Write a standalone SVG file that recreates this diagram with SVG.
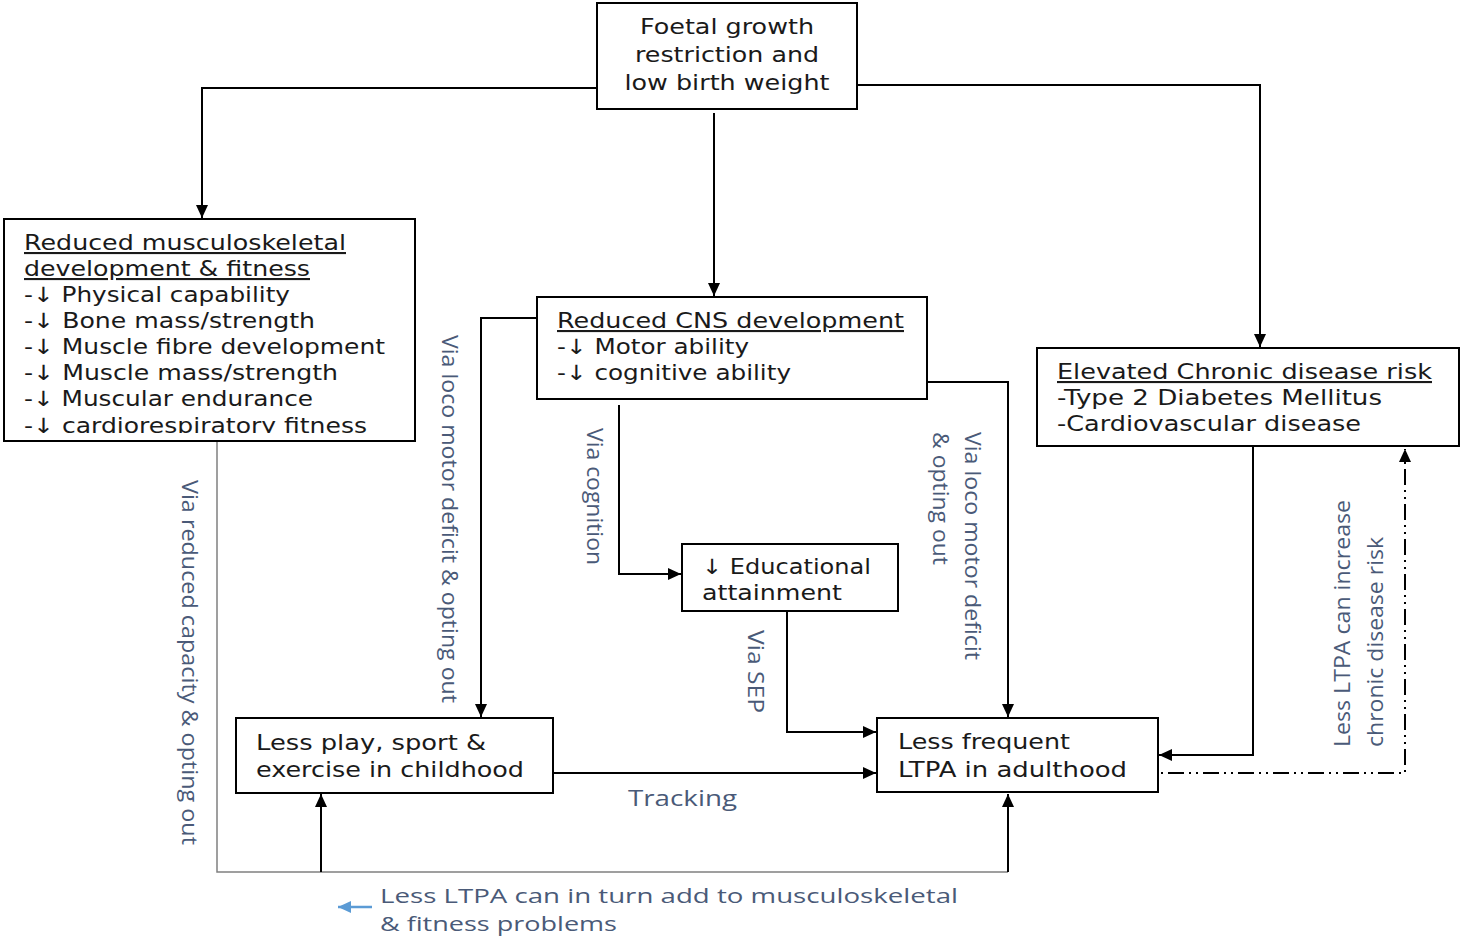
<svg xmlns="http://www.w3.org/2000/svg" width="1460" height="936" viewBox="0 0 1460 936">
<style>
.box{fill:#fff;stroke:#000;stroke-width:2}
.t{font-family:"DejaVu Sans",Verdana,sans-serif;font-size:21px;fill:#1a1a1a}
.tt{font-family:"DejaVu Sans",Verdana,sans-serif;font-size:22px;fill:#1a1a1a}
.u{text-decoration:underline}
.lab{font-family:"Open Sans","Noto Sans",sans-serif;font-size:22px;fill:#4a5a78}
.lab2{font-family:"Open Sans","Noto Sans",sans-serif;font-size:20px;fill:#4a5a78}
.c{fill:none;stroke:#000;stroke-width:2}
.g{fill:none;stroke:#808080;stroke-width:1.5}
</style>
<defs>
<marker id="ah" markerUnits="userSpaceOnUse" markerWidth="14" markerHeight="12" refX="13" refY="6" orient="auto">
<path d="M0,0 L13,6 L0,12 z" fill="#000"/>
</marker>
<marker id="ahb" markerUnits="userSpaceOnUse" markerWidth="14" markerHeight="12" refX="13" refY="6" orient="auto">
<path d="M0,0 L13,6 L0,12 z" fill="#5b9bd5"/>
</marker>
<clipPath id="clipL"><rect x="0" y="219" width="420" height="214"/></clipPath>
</defs>

<g id="connectors">
<path class="c" d="M597,88 H202 V218" marker-end="url(#ah)"/>
<path class="c" d="M857,85 H1260 V347" marker-end="url(#ah)"/>
<path class="c" d="M714,113 V296" marker-end="url(#ah)"/>
<path class="c" d="M537,318 H481 V717" marker-end="url(#ah)"/>
<path class="c" d="M927,382 H1008 V717" marker-end="url(#ah)"/>
<path class="c" d="M619,405 V574 H681" marker-end="url(#ah)"/>
<path class="c" d="M787,611 V732 H876" marker-end="url(#ah)"/>
<path class="c" d="M553,773 H876" marker-end="url(#ah)"/>
<path class="c" d="M1253,446 V755 H1159" marker-end="url(#ah)"/>
<path class="g" d="M217,442 V872 H1008"/>
<path class="c" d="M321,872 V794" marker-end="url(#ah)"/>
<path class="c" d="M1008,872 V794" marker-end="url(#ah)"/>
<path class="c" d="M1133,773 H1405 V449" stroke-dasharray="16 5 2 5 2 5" marker-end="url(#ah)"/>
<path d="M372,907 H338" fill="none" stroke="#5b9bd5" stroke-width="2.5" marker-end="url(#ahb)"/>
</g>

<g id="node-foetal">
<rect class="box" x="597" y="3" width="260" height="106"/>
<text class="tt" x="727" y="34" text-anchor="middle" textLength="174" lengthAdjust="spacingAndGlyphs">Foetal growth</text>
<text class="tt" x="727" y="62" text-anchor="middle" textLength="184" lengthAdjust="spacingAndGlyphs">restriction and</text>
<text class="tt" x="727" y="90" text-anchor="middle" textLength="205" lengthAdjust="spacingAndGlyphs">low birth weight</text>
</g>

<g id="node-musculoskeletal">
<rect class="box" x="4" y="219" width="411" height="222"/>
<g clip-path="url(#clipL)">
<text class="t u" x="24" y="250" textLength="322" lengthAdjust="spacingAndGlyphs">Reduced musculoskeletal</text>
<text class="t u" x="24" y="276" textLength="286" lengthAdjust="spacingAndGlyphs">development &amp; fitness</text>
<text class="t" x="24" y="302" textLength="266" lengthAdjust="spacingAndGlyphs">-↓ Physical capability</text>
<text class="t" x="24" y="328" textLength="291" lengthAdjust="spacingAndGlyphs">-↓ Bone mass/strength</text>
<text class="t" x="24" y="354" textLength="361" lengthAdjust="spacingAndGlyphs">-↓ Muscle fibre development</text>
<text class="t" x="24" y="380" textLength="314" lengthAdjust="spacingAndGlyphs">-↓ Muscle mass/strength</text>
<text class="t" x="24" y="406" textLength="289" lengthAdjust="spacingAndGlyphs">-↓ Muscular endurance</text>
<text class="t" x="24" y="433" textLength="343" lengthAdjust="spacingAndGlyphs">-↓ cardiorespiratory fitness</text>
</g>
</g>

<g id="node-cns">
<rect class="box" x="537" y="297" width="390" height="102"/>
<text class="t u" x="557" y="328" textLength="347" lengthAdjust="spacingAndGlyphs">Reduced CNS development</text>
<text class="t" x="557" y="354" textLength="192" lengthAdjust="spacingAndGlyphs">-↓ Motor ability</text>
<text class="t" x="557" y="380" textLength="234" lengthAdjust="spacingAndGlyphs">-↓ cognitive ability</text>
</g>

<g id="node-chronic">
<rect class="box" x="1037" y="348" width="422" height="98"/>
<text class="t u" x="1057" y="379" textLength="375" lengthAdjust="spacingAndGlyphs">Elevated Chronic disease risk</text>
<text class="t" x="1057" y="405" textLength="325" lengthAdjust="spacingAndGlyphs">-Type 2 Diabetes Mellitus</text>
<text class="t" x="1057" y="431" textLength="304" lengthAdjust="spacingAndGlyphs">-Cardiovascular disease</text>
</g>

<g id="node-education">
<rect class="box" x="682" y="544" width="216" height="67"/>
<text class="t" x="702" y="574" textLength="169" lengthAdjust="spacingAndGlyphs">↓ Educational</text>
<text class="t" x="702" y="600" textLength="140" lengthAdjust="spacingAndGlyphs">attainment</text>
</g>

<g id="node-childhood">
<rect class="box" x="236" y="718" width="317" height="75"/>
<text class="t" x="256" y="750" textLength="230" lengthAdjust="spacingAndGlyphs">Less play, sport &amp;</text>
<text class="t" x="256" y="777" textLength="268" lengthAdjust="spacingAndGlyphs">exercise in childhood</text>
</g>

<g id="node-adulthood">
<rect class="box" x="877" y="718" width="281" height="74"/>
<text class="t" x="898" y="749" textLength="172" lengthAdjust="spacingAndGlyphs">Less frequent</text>
<text class="t" x="898" y="777" textLength="229" lengthAdjust="spacingAndGlyphs">LTPA in adulthood</text>
</g>

<g id="labels">
<text class="lab" transform="translate(182,480) rotate(90)" textLength="365" lengthAdjust="spacingAndGlyphs">Via reduced capacity &amp; opting out</text>
<text class="lab" transform="translate(442,335) rotate(90)" textLength="368" lengthAdjust="spacingAndGlyphs">Via loco motor deficit &amp; opting out</text>
<text class="lab" transform="translate(587,428) rotate(90)" textLength="137" lengthAdjust="spacingAndGlyphs">Via cognition</text>
<text class="lab" transform="translate(748,630) rotate(90)" textLength="83" lengthAdjust="spacingAndGlyphs">Via SEP</text>
<text class="lab" transform="translate(965,432) rotate(90)" textLength="228" lengthAdjust="spacingAndGlyphs">Via loco motor deficit</text>
<text class="lab" transform="translate(933,432) rotate(90)" textLength="133" lengthAdjust="spacingAndGlyphs">&amp; opting out</text>
<text class="lab" transform="translate(1350,747) rotate(-90)" textLength="247" lengthAdjust="spacingAndGlyphs">Less LTPA can increase</text>
<text class="lab" transform="translate(1383,747) rotate(-90)" textLength="210" lengthAdjust="spacingAndGlyphs">chronic disease risk</text>
<text class="lab" x="628" y="806" textLength="109" lengthAdjust="spacingAndGlyphs">Tracking</text>
<text class="lab2" x="380" y="903" textLength="578" lengthAdjust="spacingAndGlyphs">Less LTPA can in turn add to musculoskeletal</text>
<text class="lab2" x="380" y="931" textLength="237" lengthAdjust="spacingAndGlyphs">&amp; fitness problems</text>
</g>
</svg>
